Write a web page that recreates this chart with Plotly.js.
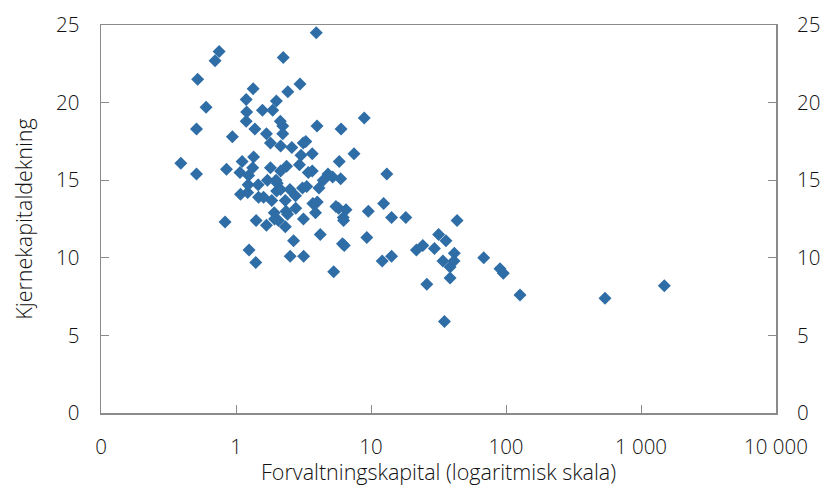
<!DOCTYPE html>
<html>
<head>
<meta charset="utf-8">
<script src="https://cdn.plot.ly/plotly-3.0.1.min.js"></script>
<style>html,body{margin:0;padding:0;background:#fff;}#chart{width:827px;height:486px;}</style>
</head>
<body>
<div id="chart"></div>
<script>
// Forvaltningskapital (log scale)
const forvaltningskapital = [
  0.39, 0.51, 0.51, 0.52, 0.60, 0.70, 0.75, 0.83, 0.85, 0.94,
  1.07, 1.08, 1.11, 1.19, 1.20, 1.19, 1.22, 1.24, 1.23, 1.25,
  1.33, 1.35, 1.34, 1.38, 1.40, 1.41, 1.46, 1.47, 1.57, 1.60,
  1.68, 1.68, 1.71, 1.80, 1.80, 1.87, 1.84, 1.92, 1.93, 2.06,
  1.98, 2.02, 1.99, 2.00, 2.14, 2.14, 2.14, 2.13, 2.22, 2.22,
  2.24, 2.32, 2.32, 2.35, 2.41, 2.37, 2.42, 2.51, 2.52, 2.59,
  2.67, 2.76, 2.77, 2.95, 2.98, 3.03, 3.11, 3.15, 3.16, 3.17,
  3.29, 3.34, 3.43, 3.67, 3.67, 3.71, 3.88, 3.93, 3.98, 4.00,
  4.12, 4.21, 4.43, 4.80, 5.20, 5.29, 5.50, 5.76, 5.82, 5.96,
  6.00, 6.23, 6.26, 6.15, 6.34, 6.53, 7.48, 8.91, 9.31, 9.55,
  12.1, 12.4, 13.1, 14.2, 14.2, 18.1, 21.7, 24.2, 25.9, 29.5,
  31.7, 34.1, 35.0, 35.9, 38.5, 38.5, 41.4, 41.2, 43.4, 68.4,
  90.3, 95.5, 127, 541, 1488
];
// Kjernekapitaldekning
const kjernekapitaldekning = [
  16.1, 15.4, 18.3, 21.5, 19.7, 22.7, 23.3, 12.3, 15.7, 17.8,
  15.5, 14.1, 16.2, 20.2, 19.4, 18.8, 14.2, 15.3, 14.7, 10.5,
  15.8, 16.5, 20.9, 18.3, 9.7, 12.4, 14.7, 13.9, 19.5, 13.9,
  12.1, 18.0, 15.0, 17.4, 15.8, 19.5, 13.7, 12.9, 12.5, 12.4,
  15.0, 14.8, 20.1, 14.3, 14.4, 17.2, 15.6, 18.8, 18.5, 18.0,
  22.9, 13.7, 12.0, 13.0, 12.8, 15.9, 20.7, 14.4, 10.1, 17.1,
  11.1, 14.0, 13.2, 16.0, 21.2, 16.6, 14.5, 17.4, 12.5, 10.1,
  17.5, 14.6, 15.5, 15.6, 16.7, 13.5, 12.9, 24.5, 18.5, 13.6,
  14.5, 11.5, 15.0, 15.4, 15.2, 9.1, 13.3, 13.2, 16.2, 15.1,
  18.3, 12.6, 12.4, 10.9, 10.8, 13.1, 16.7, 19.0, 11.3, 13.0,
  9.8, 13.5, 15.4, 12.6, 10.1, 12.6, 10.5, 10.8, 8.3, 10.6,
  11.5, 9.8, 5.9, 11.1, 9.4, 8.7, 10.3, 9.8, 12.4, 10.0,
  9.3, 9.0, 7.6, 7.4, 8.2
];
const xTickVals = [0.1, 1, 10, 100, 1000, 10000];
const xTickText = ["0", "1", "10", "100", "1 000", "10 000"];
const yTickVals = [0, 5, 10, 15, 20, 25];
const xTitle = "Forvaltningskapital (logaritmisk skala)";
const yTitle = "Kjernekapitaldekning";

const FONT = "Open Sans, Liberation Sans, Arial, sans-serif";
const TXT = "#111";
const LINE = "#8a8a8a";
const F = {family: FONT, size: 20.5, color: TXT, weight: 300};
const FT = {family: FONT, size: 21.5, color: TXT, weight: 300};

const traces = [
  {
    type: "scatter", mode: "markers",
    x: forvaltningskapital, y: kjernekapitaldekning,
    marker: {symbol: "diamond", size: 10, color: "#2f6da6", line: {width: 0}},
    hoverinfo: "x+y", showlegend: false
  },
  {
    type: "scatter", mode: "markers", x: [], y: [], yaxis: "y2",
    showlegend: false, hoverinfo: "skip"
  }
];

const layout = {
  width: 827, height: 486,
  margin: {l: 101, r: 51, t: 25, b: 73, pad: 0},
  paper_bgcolor: "#fff", plot_bgcolor: "#fff",
  font: F,
  showlegend: false,
  xaxis: {
    type: "log", range: [-1, 4],
    tickmode: "array", tickvals: xTickVals, ticktext: xTickText,
    ticks: "inside", ticklen: 8, tickcolor: LINE, tickwidth: 1,
    ticklabelstandoff: 15,
    showline: true, linecolor: LINE, linewidth: 1.5, mirror: true,
    showgrid: false, zeroline: false,
    tickfont: F
  },
  yaxis: {
    range: [0, 25], tickmode: "array", tickvals: yTickVals,
    ticks: "inside", ticklen: 8, tickcolor: LINE, tickwidth: 1,
    ticklabelstandoff: 16,
    showline: true, linecolor: LINE, linewidth: 1.5, mirror: true,
    showgrid: false, zeroline: false,
    tickfont: F,
    title: {text: yTitle, font: FT, standoff: 17}
  },
  yaxis2: {
    overlaying: "y", side: "right", matches: "y",
    range: [0, 25], tickmode: "array", tickvals: yTickVals,
    ticks: "inside", ticklen: 8, tickcolor: LINE, tickwidth: 1,
    ticklabelstandoff: 20,
    showline: false, showgrid: false, zeroline: false,
    tickfont: F
  },
  annotations: [{
    text: xTitle, xref: "paper", yref: "paper", x: 0.5, y: -0.152,
    xanchor: "center", yanchor: "middle", showarrow: false, font: FT
  }]
};

Plotly.newPlot("chart", traces, layout, {displayModeBar: false, staticPlot: true});
</script>
</body>
</html>
